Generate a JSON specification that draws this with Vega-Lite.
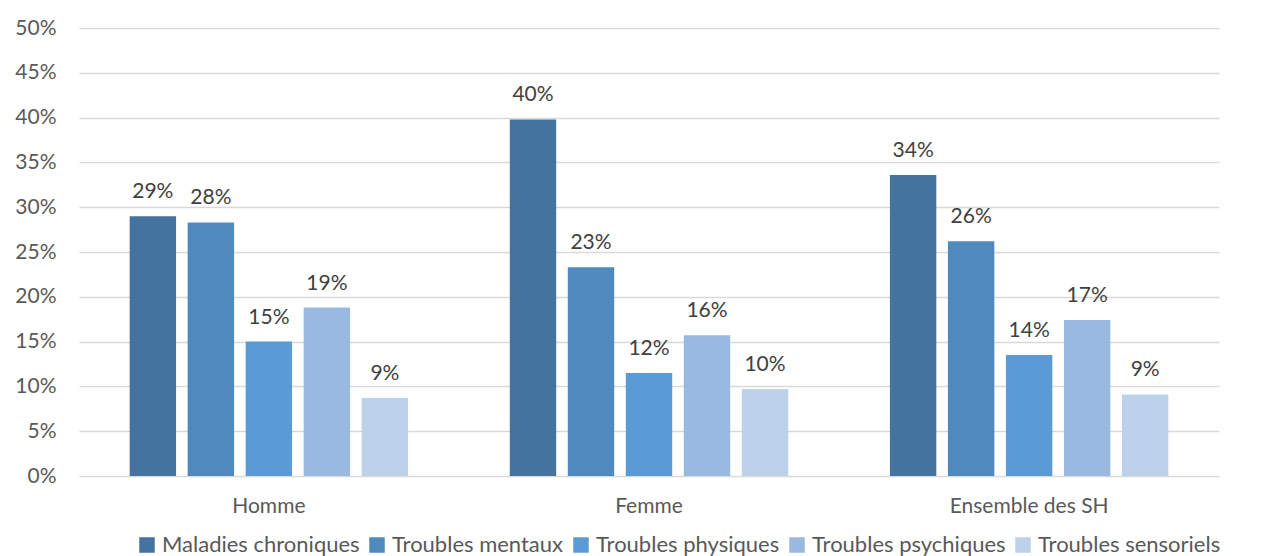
{
  "$schema": "https://vega.github.io/schema/vega-lite/v6.json",
  "width": 1140,
  "height": 448,
  "autosize": {"type": "none"},
  "padding": {"left": 79, "top": 28, "right": 54, "bottom": 80},
  "background": "white",
  "config": {
    "font": "Lato",
    "view": {"stroke": null},
    "axis": {"labelColor": "#595959", "labelFont": "Lato"},
    "legend": {"labelColor": "#595959", "labelFont": "Lato"}
  },
  "data": {
    "values": [
      {"groupe": "Homme", "type": "Maladies chroniques", "valeur": 0.290},
      {"groupe": "Homme", "type": "Troubles mentaux", "valeur": 0.283},
      {"groupe": "Homme", "type": "Troubles physiques", "valeur": 0.150},
      {"groupe": "Homme", "type": "Troubles psychiques", "valeur": 0.188},
      {"groupe": "Homme", "type": "Troubles sensoriels", "valeur": 0.087},
      {"groupe": "Femme", "type": "Maladies chroniques", "valeur": 0.398},
      {"groupe": "Femme", "type": "Troubles mentaux", "valeur": 0.233},
      {"groupe": "Femme", "type": "Troubles physiques", "valeur": 0.115},
      {"groupe": "Femme", "type": "Troubles psychiques", "valeur": 0.157},
      {"groupe": "Femme", "type": "Troubles sensoriels", "valeur": 0.097},
      {"groupe": "Ensemble des SH", "type": "Maladies chroniques", "valeur": 0.336},
      {"groupe": "Ensemble des SH", "type": "Troubles mentaux", "valeur": 0.262},
      {"groupe": "Ensemble des SH", "type": "Troubles physiques", "valeur": 0.135},
      {"groupe": "Ensemble des SH", "type": "Troubles psychiques", "valeur": 0.174},
      {"groupe": "Ensemble des SH", "type": "Troubles sensoriels", "valeur": 0.091}
    ]
  },
  "encoding": {
    "x": {
      "field": "groupe", "type": "nominal",
      "sort": ["Homme", "Femme", "Ensemble des SH"],
      "scale": {"paddingInner": 0.237, "paddingOuter": 0.118},
      "axis": {"title": null, "labelAngle": 0, "labelFontSize": 21, "labelPadding": 19, "ticks": false, "domain": false}
    },
    "xOffset": {
      "field": "type", "type": "nominal",
      "scale": {"paddingInner": 0.2, "paddingOuter": 0.1}
    },
    "y": {
      "field": "valeur", "type": "quantitative",
      "scale": {"domain": [0, 0.5], "nice": false},
      "axis": {"title": null, "format": ".0%", "values": [0,0.05,0.1,0.15,0.2,0.25,0.3,0.35,0.4,0.45,0.5], "labelOverlap": false, "labelFontSize": 21, "labelPadding": 23, "ticks": false, "domain": false, "gridColor": "#d9d9d9", "gridWidth": 1.5}
    }
  },
  "layer": [
    {
      "mark": {"type": "bar"},
      "encoding": {
        "color": {
          "field": "type", "type": "nominal",
          "scale": {
            "domain": ["Maladies chroniques", "Troubles mentaux", "Troubles physiques", "Troubles psychiques", "Troubles sensoriels"],
            "range": ["#43739e", "#4f89bd", "#5b9bd5", "#99b9e0", "#bdd1ea"]
          },
          "legend": {
            "title": null, "orient": "none", "direction": "horizontal",
            "legendX": 57, "legendY": 506,
            "symbolType": "square", "symbolSize": 240, "symbolStrokeWidth": 0,
            "labelFontSize": 22, "labelLimit": 0, "columnPadding": 6, "labelOffset": 4
          }
        }
      }
    },
    {
      "mark": {"type": "text", "baseline": "bottom", "dy": -14, "fontSize": 21, "color": "#404040"},
      "encoding": {
        "text": {"field": "valeur", "type": "quantitative", "format": ".0%"}
      }
    }
  ]
}
